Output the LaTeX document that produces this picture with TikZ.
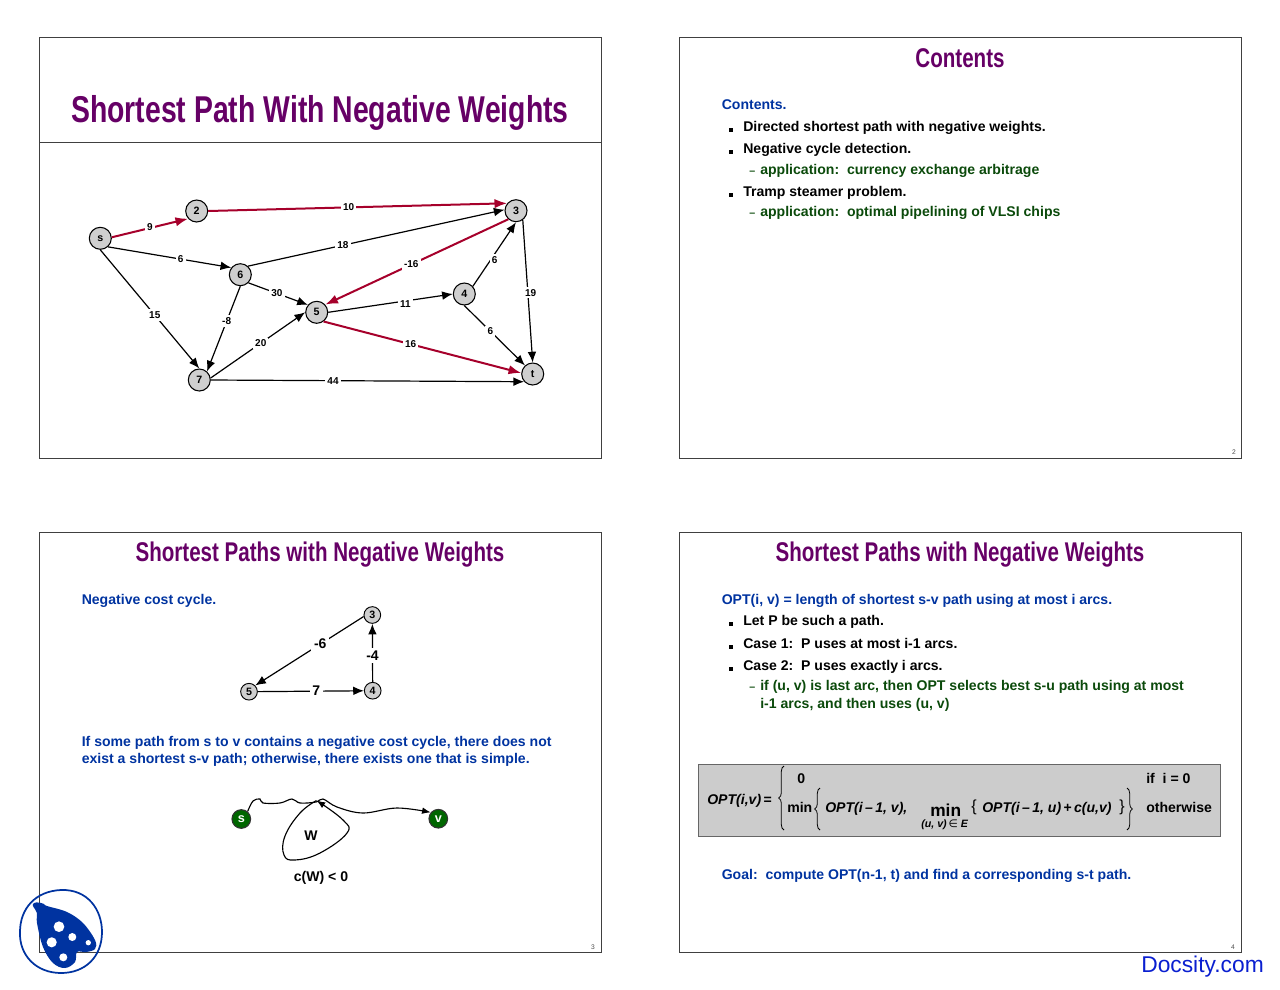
\documentclass[tikz,border=0pt]{standalone}
\usepackage{fontspec}
\setmainfont{Liberation Sans}
\newfontfamily\narrowfont[FakeStretch=0.76]{Liberation Sans}
\newfontfamily\symfont{DejaVu Sans}
\usetikzlibrary{arrows.meta,decorations.pathreplacing}
\definecolor{ttl}{HTML}{660066}
\definecolor{blu}{HTML}{0033A0}
\definecolor{grn}{HTML}{0B4A0B}
\definecolor{redarc}{HTML}{A6002B}
\definecolor{docs}{HTML}{0A1FD0}
\newcommand{\pxfont}[1]{\fontsize{#1}{#1}\selectfont}
\tikzset{
  frame/.style={draw=black!75,line width=0.75pt},
  big title/.style={text=ttl,font=\narrowfont\bfseries\pxfont{28},anchor=base,inner sep=0},
  sub title/.style={text=ttl,font=\narrowfont\bfseries\pxfont{20.3},anchor=base,inner sep=0},
  vert/.style={circle,draw=black,line width=0.8pt,fill=black!19,minimum size=16.5pt,inner sep=0,font=\bfseries\pxfont{8}},
  svert/.style={circle,draw=black,line width=0.7pt,fill=black!19,minimum size=12.5pt,inner sep=0,font=\bfseries\pxfont{8}},
  gvert/.style={circle,draw=black!80,line width=0.8pt,fill=green!40!black,text=white,minimum size=14pt,inner sep=0,font=\bfseries\pxfont{9.5}},
  arc/.style={draw=black,line width=0.9pt,-{Latex[length=8pt,width=6.5pt]}},
  redpath/.style={draw=redarc,line width=1.5pt,-{Latex[length=9.5pt,width=7pt]}},
  wlab/.style={fill=white,inner sep=1.6pt,text=black,font=\bfseries\pxfont{7.5}},
  slab/.style={fill=white,inner sep=2pt,text=black,font=\bfseries\pxfont{10.5}},
  body/.style={anchor=base west,inner sep=0,font=\bfseries\pxfont{10.55}},
  blue text/.style={body,text=blu},
  green text/.style={body,text=grn},
  bul/.style={fill=black,minimum size=2.4pt,inner sep=0},
  dashmark/.style={anchor=base west,inner sep=0,text=grn,font=\bfseries\pxfont{8}},
  pgno/.style={inner sep=0,text=black!70,font=\pxfont{5}},
  eq/.style={anchor=base west,inner sep=0,font=\bfseries\pxfont{10.55}},
  eqi/.style={anchor=base west,inner sep=0,font=\bfseries\itshape\pxfont{10.55}},
}
\begin{document}
\begin{tikzpicture}[x=0.75pt,y=-0.75pt]
\useasboundingbox (0,0) rectangle (1280,989);
% slide frames
\draw[frame] (39,37) rectangle (601,458);
\draw[frame] (679,37) rectangle (1241,458);
\draw[frame] (39,532) rectangle (601,952);
\draw[frame] (679,532) rectangle (1241,952);
\draw[frame] (39,142) -- (601,142);
% titles
\node[big title] (t1) at (320,122) {Shortest Path With Negative Weights};
\node[sub title] (t2) at (960,67) {Contents};
\node[sub title] (t3) at (320,561) {Shortest Paths with Negative Weights};
\node[sub title] (t4) at (960,561) {Shortest Paths with Negative Weights};
% slide 1 graph
\node[vert] (s) at (100.3,238.3) {s};
\node[vert] (n2) at (196.7,211) {2};
\node[vert] (n3) at (516,210.7) {3};
\node[vert] (n6) at (240.3,274.7) {6};
\node[vert] (n4) at (464.3,294) {4};
\node[vert] (n5) at (316.7,312.3) {5};
\node[vert] (n7) at (199.3,380) {7};
\node[vert] (nt) at (532.7,374) {t};
\draw[redpath] (s.5) -- node[wlab,pos=.5,yshift=0.5pt] (l1) {9} (n2.222);
\draw[redpath] (n2.east) -- node[wlab,pos=.47] (l2) {10} (n3.140);
\draw[arc] (s.312) -- node[wlab,pos=.59] (l3) {6} (n6.142);
\draw[arc] (n6.48) -- node[wlab,pos=.37] (l4) {18} (n3.175);
\draw[arc] (s.270) -- node[wlab,pos=.55] (l5) {15} (n7.90);
\draw[arc] (n6.315) -- node[wlab,pos=.48] (l6) {30} (n5.140);
\draw[arc] (n6.270) -- node[wlab,pos=.41] (l7) {-8} (n7.48);
\draw[arc] (n7.10) -- node[wlab,pos=.53] (l8) {20} (n5.180);
\draw[redpath] (n5.307) -- node[wlab,pos=.44] (l9) {16} (nt.175);
\draw[arc] (n5.east) -- node[wlab,pos=.62,yshift=-2pt] (l10) {11} (n4.180);
\draw[redpath] (n3.228) -- node[wlab,pos=.53] (l11) {-16} (n5.42);
\draw[arc] (n4.42) -- node[wlab,pos=.41,xshift=3pt] (l12) {6} (n3.270);
\draw[arc] (n3.306) -- node[wlab,pos=.5,xshift=2.25pt,yshift=-1pt] (l13) {19} (nt.90);
\draw[arc] (n4.270) -- node[wlab,pos=.43] (l14) {6} (nt.132);
\draw[arc] (n7.east) -- node[wlab,pos=.39] (l15) {44} (nt.222);
% slide 2
\node[blue text] (c0) at (721.5,109) {Contents.};
\node[bul] (b1) at (731,130) {};
\node[body] (c1) at (743,131) {Directed shortest path with negative weights.};
\node[bul] (b2) at (731,152) {};
\node[body] (c2) at (743,153) {Negative cycle detection.};
\node[dashmark] (d1) at (749,174) {–};
\node[green text] (c3) at (760,174) {application:\ \ currency exchange arbitrage};
\node[bul] (b3) at (731,195) {};
\node[body] (c4) at (743,196) {Tramp steamer problem.};
\node[dashmark] (d2) at (749,216) {–};
\node[green text] (c5) at (760,216) {application:\ \ optimal pipelining of VLSI chips};
\node[pgno] (p2) at (1234,452) {2};
% slide 3
\node[blue text] (e0) at (81.5,604) {Negative cost cycle.};
\node[svert] (a3) at (372.3,615) {3};
\node[svert] (a4) at (372.7,690.7) {4};
\node[svert] (a5) at (249,691.7) {5};
\draw[arc] (a3.190) -- node[slab,pos=.4] (m1) {-6} (a5.45);
\draw[arc] (a4) -- node[slab,pos=.45] (m2) {-4} (a3);
\draw[arc] (a5) -- node[slab,pos=.55] (m3) {7} (a4);
\node[blue text] (e1) at (81.5,746) {If some path from s to v contains a negative cost cycle, there does not};
\node[blue text] (e2) at (81.5,763) {exist a shortest s-v path; otherwise, there exists one that is simple.};
\node[gvert] (gs) at (241.3,819) {s};
\node[gvert] (gv) at (438.3,818.7) {v};
\coordinate (top) at (316.5,800.5);
\draw[line width=0.85pt,-{Latex[length=6.5pt,width=5pt]}] plot[smooth,tension=0.6] coordinates {(gs.50) (253,801) (260,799) (263,803) (280,803) (292,799) (300,803) (316,802) (323,799) (337,807) (363,813) (397,808) (gv.140)};
\draw[line width=0.85pt,-{Latex[length=6.5pt,width=5pt]}] plot[smooth,tension=0.7] coordinates {(top) (300,813) (285,836) (284,855) (295,860) (320,853) (347,833) (343,820) (top)};
\node[inner sep=0,font=\bfseries\pxfont{10.5}] (w) at (311,836) {W};
\node[inner sep=0,font=\bfseries\pxfont{10.55}] (cw) at (321,878) {c(W) < 0};
\node[pgno] (p3) at (593,947) {3};
% slide 4
\node[blue text] (f0) at (721.5,604) {OPT(i, v) = length of shortest s-v path using at most i arcs.};
\node[bul] (g1) at (731,624) {};
\node[body] (f1) at (743,625) {Let P be such a path.};
\node[bul] (g2) at (731,647) {};
\node[body] (f2) at (743,648) {Case 1:\ \ P uses at most i-1 arcs.};
\node[bul] (g3) at (731,669) {};
\node[body] (f3) at (743,670) {Case 2:\ \ P uses exactly i arcs.};
\node[dashmark] (d3) at (749,690) {–};
\node[green text] (f4) at (760,690) {if (u, v) is last arc, then OPT selects best s-u path using at most};
\node[green text] (f5) at (760,708) {i-1 arcs, and then uses (u, v)};
% formula box
\draw[draw=black!60,line width=0.6pt,fill=black!20] (698,764) rectangle (1220,836);
\node[eqi] (q1) at (707,804) {OPT(i,v)\,\textup{=}};
\draw[line width=0.6pt,decorate,decoration={brace,amplitude=4pt}] (784,830) -- (784,766);
\node[eq] (q2) at (797,783) {0};
\node[eq] (q3) at (1146,783) {if\ \ i = 0};
\node[eq] (q4) at (787,812) {min};
\draw[line width=0.6pt,decorate,decoration={brace,amplitude=4pt}] (820,830) -- (820,788);
\node[eqi] (q5) at (825,812) {OPT(i\,–\,1, v),};
\node[eq,font=\bfseries\pxfont{13}] (q6) at (930,816) {min};
\node[eqi,font=\bfseries\itshape\pxfont{8}] (q7) at (921,827) {(u, v)\,{\symfont\upshape\mdseries ∈}\ E};
\node[eq,font=\pxfont{12}] (q8) at (971,811) {\{};
\node[eqi] (q9) at (982,812) {OPT(i\,–\,1, u)\,\textup{+}\,c(u,v)};
\node[eq,font=\pxfont{12}] (q10) at (1119,811) {\}};
\draw[line width=0.6pt,decorate,decoration={brace,amplitude=4pt}] (1127,788) -- (1127,830);
\node[eq] (q11) at (1146,812) {otherwise};
\node[blue text] (f6) at (721.5,879) {Goal:\ \ compute OPT(n-1, t) and find a corresponding s-t path.};
\node[pgno] (p4) at (1233,947) {4};
% logo
\draw[blu,line width=1.3pt] (61,890) .. controls (88,889) and (102,910) .. (102,932) .. controls (102,957) and (85,973) .. (61,973) .. controls (36,973) and (19,955) .. (20,932) .. controls (20,908) and (36,891) .. (61,890) -- cycle;
\fill[blu] plot[smooth cycle,tension=0.6] coordinates {(33,906) (34,903) (39,902.5) (44,904) (47,906) (67,912) (83,923) (95,940) (95,949) (86,952) (77,952) (75,962) (65,968) (53,963) (43,947) (37,923) (37,913)};
\fill[white] (59,926.7) circle (4pt);
\fill[white] (51.7,942.3) circle (3.8pt);
\fill[white] (72.3,937) circle (3pt);
\fill[white] (88.3,942.7) circle (2pt);
\fill[white] (63.3,957.3) circle (3pt);
% watermark
\node[inner sep=0,anchor=base east,text=docs,font=\pxfont{17.1}] (ds) at (1264,972) {Docsity.com};
\end{tikzpicture}
\end{document}
